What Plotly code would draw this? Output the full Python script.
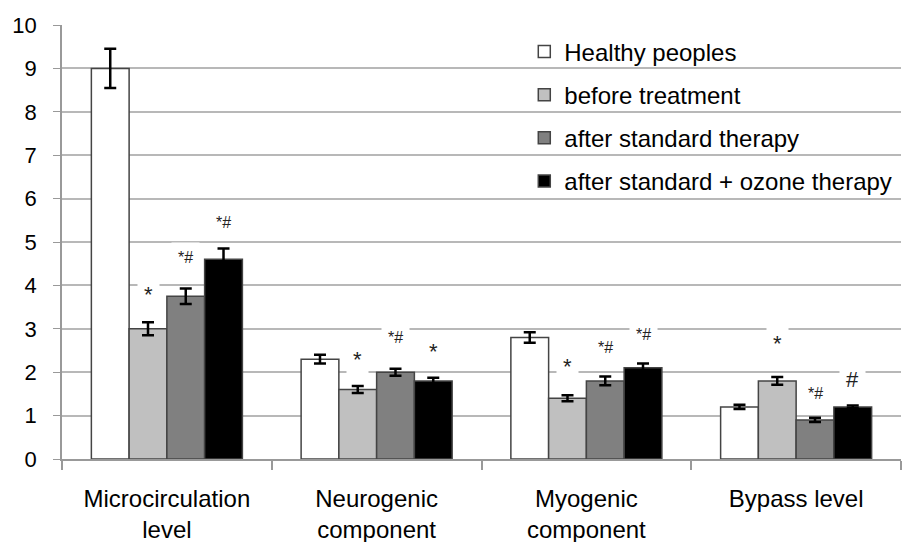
import plotly.graph_objects as go

categories = ["Microcirculation<br>level", "Neurogenic<br>component",
              "Myogenic<br>component", "Bypass level"]

series_names = ["Healthy peoples", "before treatment",
                "after standard therapy", "after standard + ozone therapy"]

healthy = [9.0, 2.3, 2.8, 1.2]
before = [3.0, 1.6, 1.4, 1.8]
standard = [3.75, 2.0, 1.8, 0.9]
ozone = [4.6, 1.8, 2.1, 1.2]

healthy_err = [0.45, 0.1, 0.12, 0.05]
before_err = [0.15, 0.08, 0.07, 0.09]
standard_err = [0.18, 0.08, 0.1, 0.05]
ozone_err = [0.25, 0.07, 0.1, 0.03]

# significance marks: (series index, category index, text, label height)
marks = [
    (1, 0, "*", 3.8), (2, 0, "*#", 4.65), (3, 0, "*#", 5.46),
    (1, 1, "*", 2.3), (2, 1, "*#", 2.81), (3, 1, "*", 2.47),
    (1, 2, "*", 2.12), (2, 2, "*#", 2.56), (3, 2, "*#", 2.88),
    (1, 3, "*", 2.65), (2, 3, "*#", 1.52), (3, 3, "#", 1.84),
]

values = [healthy, before, standard, ozone]
errors = [healthy_err, before_err, standard_err, ozone_err]
colors = ["#ffffff", "#c0c0c0", "#808080", "#000000"]

FONT = "Liberation Sans, Arial, sans-serif"

fig = go.Figure()
for i, (name, vals, errs, col) in enumerate(zip(series_names, values, errors, colors)):
    fig.add_trace(go.Bar(
        x=categories, y=vals, name=name, legendgroup=name,
        marker=dict(color=col, line=dict(color="#444444", width=1.5)),
        error_y=dict(type="data", array=errs, visible=True,
                     color="#000000", thickness=2.5, width=6),
    ))

n = len(series_names)
bargap = 0.28
slot = (1 - bargap) / n
for s, c, text, h in marks:
    xpos = c - (1 - bargap) / 2 + slot * (s + 0.5)
    size = 16 if len(text) > 1 else 22
    fig.add_annotation(
        x=xpos, y=h, xref="x", yref="y", text=text, showarrow=False,
        font=dict(family=FONT, size=size, color="#222222"),
        bgcolor="#ffffff", borderpad=6,
    )

fig.update_layout(
    width=907, height=542,
    margin=dict(l=62, r=6, t=25, b=83),
    paper_bgcolor="#ffffff", plot_bgcolor="#ffffff",
    barmode="group", bargap=bargap, bargroupgap=0,
    font=dict(family=FONT, size=24, color="#000000"),
    showlegend=True,
    legend=dict(x=0.551, y=0.99, xanchor="left", yanchor="top",
                bgcolor="rgba(0,0,0,0)", font=dict(size=24),
                tracegroupgap=9, itemwidth=30),
    xaxis=dict(showgrid=False, showline=True, linecolor="#999999", linewidth=1.5,
               ticks="outside", ticklen=9, tickcolor="#999999", tickwidth=1.5,
               tickson="boundaries", ticklabelstandoff=17, automargin=False,
               tickfont=dict(size=24)),
    yaxis=dict(range=[0, 10], dtick=1, showgrid=True, gridcolor="#b8b8b8",
               gridwidth=2, showline=True, linecolor="#999999", linewidth=1.5,
               ticks="outside", ticklen=7, tickcolor="#999999",
               ticklabelstandoff=12, automargin=False,
               zeroline=False, tickfont=dict(size=22)),
)

fig.write_html("out.html")
